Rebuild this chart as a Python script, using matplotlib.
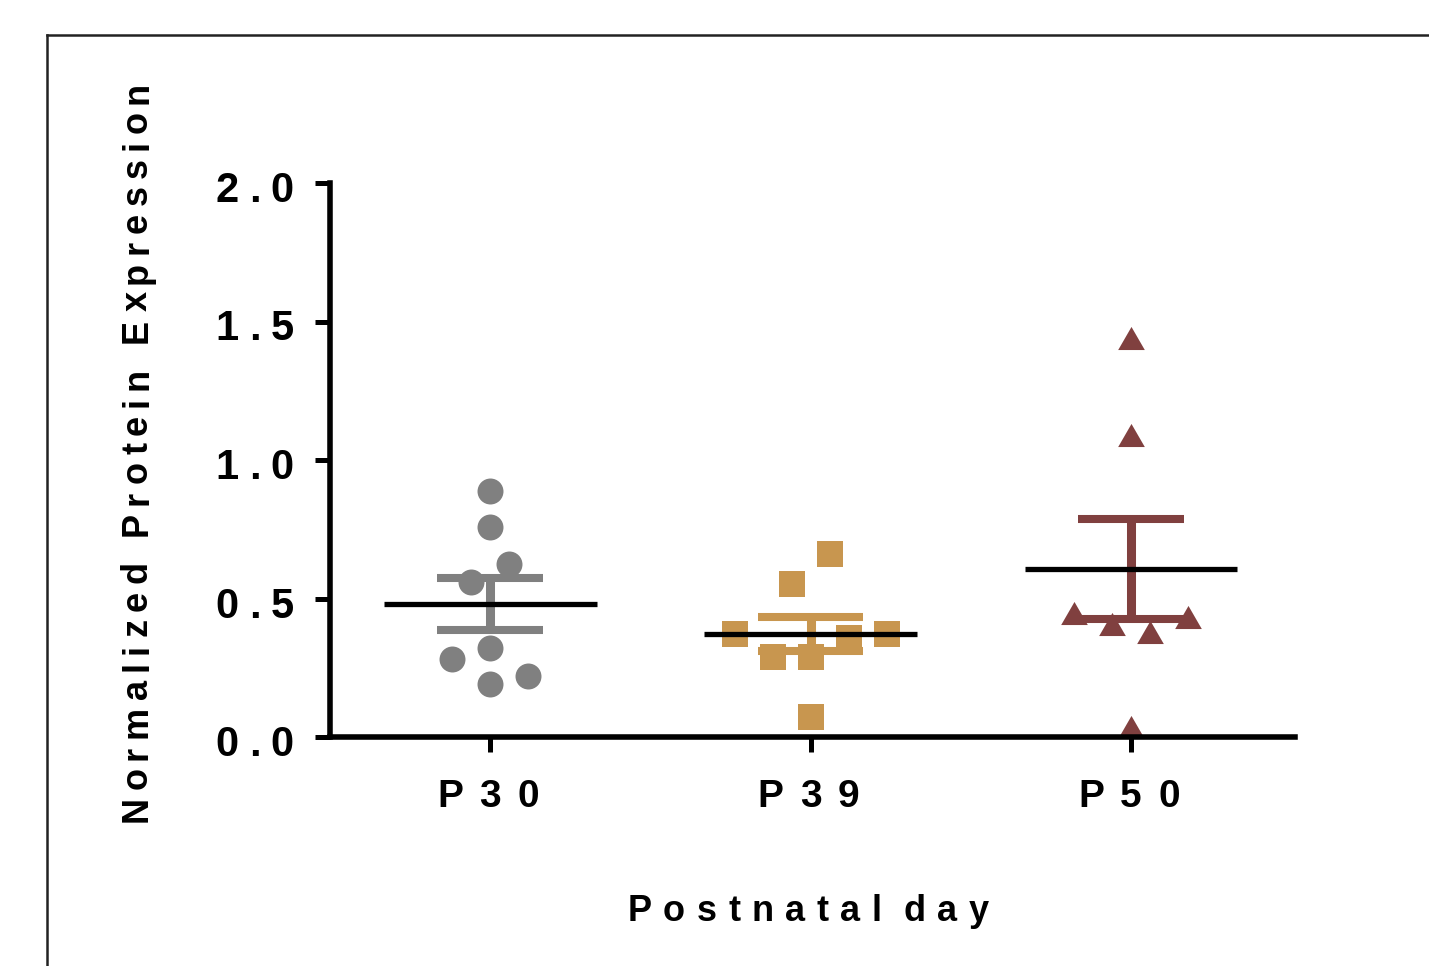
import math
import matplotlib
matplotlib.use('Agg')
import matplotlib.pyplot as plt
from matplotlib.font_manager import FontProperties, findfont, get_font
from matplotlib.lines import Line2D
from matplotlib.path import Path

# ---------------- data ----------------
categories = ['P30', 'P39', 'P50']
p30_values = [0.889, 0.759, 0.561, 0.623, 0.320, 0.282, 0.220, 0.190]
p39_values = [0.552, 0.661, 0.290, 0.290, 0.356, 0.371, 0.371, 0.073]
p50_values = [1.440, 1.090, 0.408, 0.380, 0.449, 0.432, 0.037]
group_means = [0.480, 0.371, 0.606]
group_sems = [0.095, 0.062, 0.181]
y_ticks = [0.0, 0.5, 1.0, 1.5, 2.0]
y_tick_labels = ['0.0', '0.5', '1.0', '1.5', '2.0']
x_label = 'Postnatal day'
y_label = 'Normalized Protein Expression'

# ---------------- styling ----------------
W, H, DPI = 1429, 966, 100
FAMILY = ['Liberation Sans', 'DejaVu Sans']
colors = ['#808080', '#C8964F', '#80403F']
tri = Path([(-1, -0.866), (1, -0.866), (0, 0.866), (-1, -0.866)],
           [Path.MOVETO, Path.LINETO, Path.LINETO, Path.CLOSEPOLY])
marker_styles = ['o', 's', tri]
marker_sizes = [18.7, 19.2, 19.2]
SLOT_PX = 38.0   # horizontal spacing of scatter columns
BIN_PX = 33.0    # vertical bin height used to spread points

fig = plt.figure(figsize=(W / DPI, H / DPI), dpi=DPI)
ax = fig.add_axes([330 / W, 1 - 737 / H, 965 / W, 554 / H])
ax.set_xlim(-0.5, 2.512)
ax.set_ylim(0, 2.0)
for s in ['top', 'right']:
    ax.spines[s].set_visible(False)
for s in ['left', 'bottom']:
    ax.spines[s].set_linewidth(4.0)
    ax.spines[s].set_capstyle('projecting')
ax.set_xticks(range(len(categories)))
ax.set_yticks(y_ticks)
ax.tick_params(axis='both', direction='out', length=11, width=3.6,
               labelleft=False, labelbottom=False, color='black')
ax.set_facecolor('none')


def slot_order(n):
    if n % 2 == 1:
        out = [0.0]
        k = 1
        while len(out) < n:
            out += [-k, k]
            k += 1
    else:
        out = []
        k = 0.5
        while len(out) < n:
            out += [-k, k]
            k += 1
    return out[:n]


def swarm_x(values, center):
    tr = ax.transData
    inv = tr.inverted()
    ys = [tr.transform((center, v))[1] for v in values]
    cx = tr.transform((center, 0))[0]
    order = sorted(range(len(values)), key=lambda i: -values[i])
    groups = []
    for i in order:
        if groups and ys[groups[-1][0]] - ys[i] <= BIN_PX:
            groups[-1].append(i)
        else:
            groups.append([i])
    xs = [float(center)] * len(values)
    for g in groups:
        members = sorted(g)
        for idx, s in zip(members, slot_order(len(members))):
            xs[idx] = inv.transform((cx + s * SLOT_PX, ys[idx]))[0]
    return xs


series = [p30_values, p39_values, p50_values]
for i, vals in enumerate(series):
    xs = swarm_x(vals, i)
    ax.plot(xs, vals, linestyle='none', marker=marker_styles[i],
            markersize=marker_sizes[i], color=colors[i],
            markeredgewidth=0, zorder=2, clip_on=False)
    m, e = group_means[i], group_sems[i]
    ax.plot([i, i], [m - e, m + e], color=colors[i], lw=6.5,
            solid_capstyle='butt', zorder=3)
    ax.hlines([m - e, m + e], i - 0.165, i + 0.165, color=colors[i],
              lw=5.8, zorder=3)
    ax.hlines([m], i - 0.332, i + 0.332, color='black', lw=3.8, zorder=4)


# ---------------- tracked (letter-spaced) text ----------------
def advances(s, prop):
    try:
        font = get_font(findfont(prop))
        font.set_size(prop.get_size_in_points(), 72)
        try:
            from matplotlib.ft2font import LoadFlags
            flags = LoadFlags.NO_HINTING
        except Exception:
            from matplotlib.ft2font import LOAD_NO_HINTING as flags
        out = []
        for ch in s:
            g = font.load_char(ord(ch), flags=flags)
            out.append(g.linearHoriAdvance / 65536)
        return out
    except Exception:
        return [0.55 * prop.get_size_in_points()] * len(s)


def tracked(s, x, y, size, track, ha='center', rotation=0, space_track=None):
    """x, y in display pixels (origin bottom-left), anchor on baseline."""
    if space_track is None:
        space_track = track
    prop = FontProperties(family=FAMILY, weight='bold', size=size)
    adv = [a * DPI / 72 for a in advances(s, prop)]
    gaps = [space_track if ch == ' ' else track for ch in s[:-1]]
    total = sum(adv) + sum(gaps)
    start = {'center': -total / 2, 'right': -total, 'left': 0}[ha]
    c, sn = math.cos(math.radians(rotation)), math.sin(math.radians(rotation))
    pos = start
    for k, (ch, a) in enumerate(zip(s, adv)):
        mid = pos + a / 2
        if ch != ' ':
            fig.text((x + mid * c) / W, (y + mid * sn) / H, ch,
                     fontproperties=prop, ha='center', va='baseline',
                     rotation=rotation, rotation_mode='anchor', color='black')
        pos += a + (gaps[k] if k < len(gaps) else 0)


for v, lab in zip(y_ticks, y_tick_labels):
    yd = ax.transData.transform((0, v))[1]
    tracked(lab, 294, yd - 19, 30, 10.5, ha='right')

for i, lab in enumerate(categories):
    xd = ax.transData.transform((i, 0))[0]
    tracked(lab, xd - 2, H - 807, 28, 16.5)

tracked(x_label, 808, H - 921, 26, 11.5, space_track=0)
tracked(y_label, 147, H - 452, 26, 7.4, rotation=90)

# ---------------- outer frame ----------------
fig.add_artist(Line2D([47 / W, 47 / W], [0, 1 - 35 / H], color='#222222', lw=1.8,
                      transform=fig.transFigure, solid_capstyle='projecting'))
fig.add_artist(Line2D([47 / W, 1.0], [1 - 35 / H, 1 - 35 / H], color='#222222', lw=1.8,
                      transform=fig.transFigure, solid_capstyle='projecting'))

fig.savefig('out.png', dpi=DPI, facecolor='white')
